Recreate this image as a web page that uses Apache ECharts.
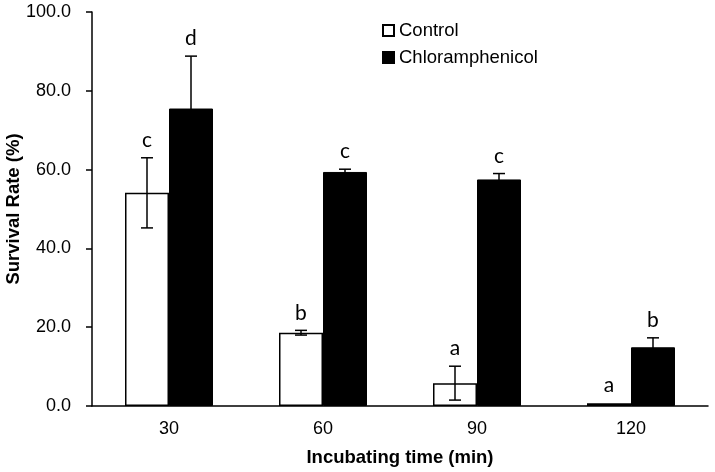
<!DOCTYPE html>
<html>
<head>
<meta charset="utf-8">
<script src="https://cdn.jsdelivr.net/npm/echarts@6/dist/echarts.min.js"></script>
<style>
  html, body { margin: 0; padding: 0; background: #fff; }
  #chartBox { width: 715px; height: 472px; }
</style>
</head>
<body>
<div id="chartBox"></div>
<script>
  // data
  var categories = ['30', '60', '90', '120'];
  var controlMean = [54.1, 18.6, 5.8, 0.7];
  var controlErr = [8.9, 0.6, 4.3, 0.1];
  var controlLetters = ['c', 'b', 'a', 'a'];
  var chloroMean = [75.5, 59.4, 57.5, 14.9];
  var chloroErr = [13.3, 0.7, 1.5, 2.4];
  var chloroLetters = ['d', 'c', 'c', 'b'];

  var BAR_W = 44;

  // error bars + significance letters, placed with the axis scales
  function errorSeries(means, errs, letters, side) {
    return {
      type: 'custom',
      silent: true,
      z: 5,
      data: means.map(function (m, i) { return [i, m, errs[i], letters[i]]; }),
      renderItem: function (params, api) {
        var i = api.value(0);
        var m = api.value(1);
        var e = api.value(2);
        var top = api.coord([i, m + e]);
        var bot = api.coord([i, Math.max(m - e, 0)]);
        var x = top[0] + side * BAR_W / 2;
        var cap = 6;
        var style = { stroke: '#000', lineWidth: 1.5 };
        var kids = [];
        if (e > 0.3) {
          kids.push({ type: 'line', shape: { x1: x, y1: top[1], x2: x, y2: bot[1] }, style: style });
          kids.push({ type: 'line', shape: { x1: x - cap, y1: top[1], x2: x + cap, y2: top[1] }, style: style });
          kids.push({ type: 'line', shape: { x1: x - cap, y1: bot[1], x2: x + cap, y2: bot[1] }, style: style });
        }
        kids.push({
          type: 'text',
          style: {
            text: api.value(3), x: x, y: top[1] - 7,
            align: 'center', verticalAlign: 'bottom',
            font: '21px Lato, "Open Sans", sans-serif', fill: '#000'
          }
        });
        return { type: 'group', children: kids };
      }
    };
  }

  var chart = echarts.init(document.getElementById('chartBox'));

  var option = {
    animation: false,
    textStyle: { fontFamily: 'Liberation Sans, Arial, sans-serif', color: '#000' },
    grid: { left: 92, right: 7, top: 12, bottom: 66, outerBoundsMode: 'none', containLabel: false },
    legend: {
      orient: 'vertical',
      left: 377, top: 16,
      itemWidth: 11, itemHeight: 11, itemGap: 8,
      icon: 'rect',
      textStyle: { fontSize: 18.5, color: '#000', fontFamily: 'Liberation Sans, Arial, sans-serif' },
      data: ['Control', 'Chloramphenicol']
    },
    xAxis: {
      type: 'category',
      data: categories,
      name: 'Incubating time (min)',
      nameLocation: 'middle',
      nameGap: 42,
      nameMoveOverlap: false,
      nameTextStyle: { fontSize: 18.5, fontWeight: 'bold', color: '#000' },
      axisLine: { lineStyle: { color: '#000', width: 1.5 } },
      axisTick: { lineStyle: { color: '#000', width: 1.5 }, length: 6 },
      axisLabel: { fontSize: 18, color: '#000', margin: 14 }
    },
    yAxis: {
      type: 'value',
      min: 0, max: 100, interval: 20,
      name: 'Survival Rate (%)',
      nameLocation: 'middle',
      nameGap: 69,
      nameMoveOverlap: false,
      nameTextStyle: { fontSize: 18.5, fontWeight: 'bold', color: '#000' },
      axisLine: { show: true, lineStyle: { color: '#000', width: 1.5 } },
      axisTick: { show: true, lineStyle: { color: '#000', width: 1.5 }, length: 6 },
      splitLine: { show: false },
      axisLabel: {
        fontSize: 18, color: '#000', margin: 21,
        formatter: function (v) { return v.toFixed(1); }
      }
    },
    series: [
      {
        name: 'Control', type: 'bar', data: controlMean,
        barWidth: BAR_W, barGap: 0,
        itemStyle: { color: '#fff', borderColor: '#000', borderWidth: 1.5 }
      },
      {
        name: 'Chloramphenicol', type: 'bar', data: chloroMean,
        barWidth: BAR_W, barGap: 0,
        itemStyle: { color: '#000', borderColor: '#000', borderWidth: 1 }
      },
      errorSeries(controlMean, controlErr, controlLetters, -1),
      errorSeries(chloroMean, chloroErr, chloroLetters, 1)
    ]
  };

  chart.setOption(option);
  window.onresize = chart.resize;
</script>
</body>
</html>
